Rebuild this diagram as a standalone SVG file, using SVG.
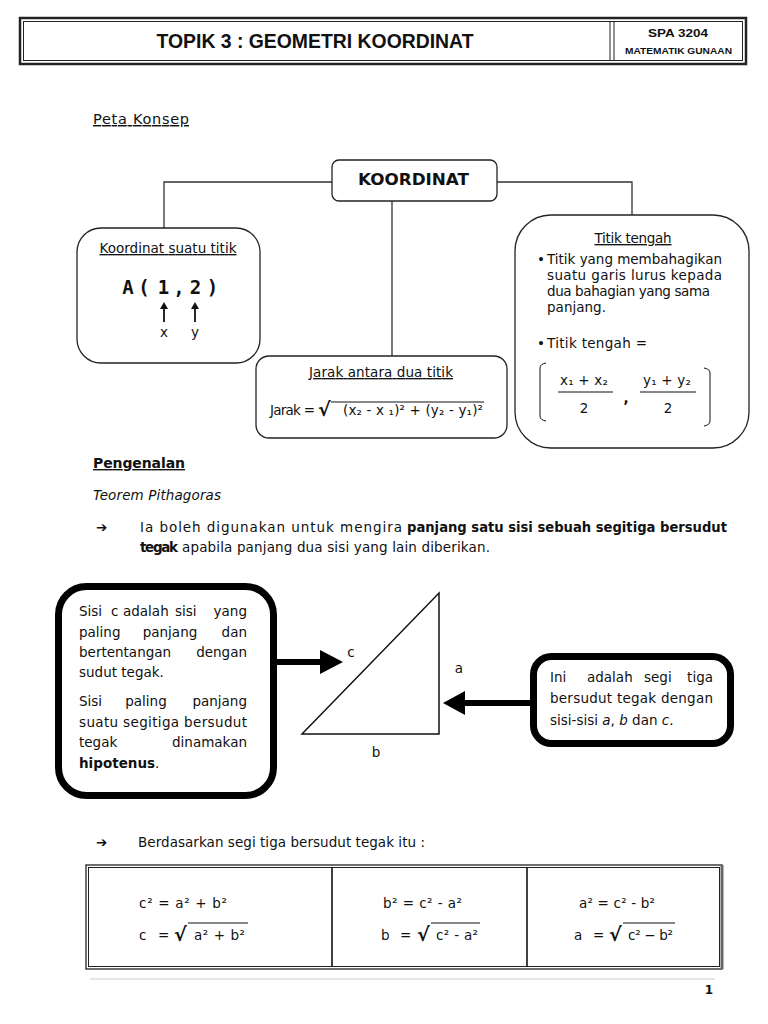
<svg xmlns="http://www.w3.org/2000/svg" width="768" height="1024" viewBox="0 0 768 1024">
<style>
.t{font-family:"DejaVu Sans","Verdana",sans-serif;font-size:13.5px;fill:#111}
.b{font-weight:bold}
.i{font-style:italic}
.u{text-decoration:underline}
.box{fill:#fff;stroke:#222;stroke-width:1.3}
.thick{fill:#fff;stroke:#000;stroke-width:7}
.con{fill:none;stroke:#333;stroke-width:1.3}
.hdr{font-family:"Liberation Sans","Arial",sans-serif;font-weight:bold;fill:#111}
.m{font-family:"DejaVu Sans","Verdana",sans-serif;font-size:13.5px;fill:#111}
.rad{font-family:"DejaVu Sans","Verdana",sans-serif;font-weight:bold;font-size:19px;fill:#111}
</style>
<rect width="768" height="1024" fill="#fff"/>

<g id="header">
<rect x="20" y="18" width="726" height="46" fill="none" stroke="#222" stroke-width="2.5"/>
<rect x="23.5" y="21.5" width="719" height="39" fill="none" stroke="#222" stroke-width="1"/>
<line x1="610" y1="21.5" x2="610" y2="60.5" stroke="#222" stroke-width="1"/>
<line x1="614" y1="21.5" x2="614" y2="60.5" stroke="#222" stroke-width="1"/>
<text class="hdr" x="315" y="48" style="font-size:21px" text-anchor="middle" textLength="317" lengthAdjust="spacingAndGlyphs">TOPIK 3 : GEOMETRI KOORDINAT</text>
<text class="hdr" x="678" y="37" style="font-size:11.5px" text-anchor="middle" textLength="60" lengthAdjust="spacingAndGlyphs">SPA 3204</text>
<text class="hdr" x="678.5" y="54" style="font-size:9.5px" text-anchor="middle" textLength="107" lengthAdjust="spacingAndGlyphs">MATEMATIK GUNAAN</text>
</g>

<text class="t u" x="93" y="124" style="font-size:14.5px" textLength="96">Peta Konsep</text>

<g id="connectors">
<polyline class="con" points="332,182 164,182 164,228"/>
<polyline class="con" points="497,182 632,182 632,215"/>
<line class="con" x1="392" y1="201" x2="392" y2="356"/>
<line x1="277" y1="662" x2="322" y2="662" stroke="#000" stroke-width="6"/>
<polygon points="320,650 343,662 320,674" fill="#000"/>
<line x1="530" y1="703" x2="463" y2="703" stroke="#000" stroke-width="6"/>
<polygon points="465,691 443,703 465,715" fill="#000"/>
</g>

<g id="koordinat">
<rect class="box" x="332" y="160" width="165" height="41" rx="7"/>
<text class="t b" x="413.5" y="185" style="font-size:16.5px" text-anchor="middle" textLength="111" lengthAdjust="spacingAndGlyphs">KOORDINAT</text>
</g>

<g id="koordinat-titik">
<rect class="box" x="77" y="228" width="183" height="135" rx="24"/>
<text class="t u" x="168" y="253" text-anchor="middle" textLength="137">Koordinat suatu titik</text>
<g font-family="DejaVu Sans Mono, Liberation Mono, monospace" font-weight="bold" font-size="19" fill="#111" text-anchor="middle">
<text x="128" y="294">A</text><text x="144" y="294">(</text><text x="163.5" y="294">1</text><text x="179" y="294">,</text><text x="195.5" y="294">2</text><text x="212.5" y="294">)</text>
</g>
<line x1="164" y1="322" x2="164" y2="308" stroke="#111" stroke-width="1.8"/>
<polygon points="160,309 164,302 168,309" fill="#111"/>
<line x1="195" y1="322" x2="195" y2="308" stroke="#111" stroke-width="1.8"/>
<polygon points="191,309 195,302 199,309" fill="#111"/>
<text class="t" x="164" y="337" text-anchor="middle">x</text>
<text class="t" x="195" y="337" text-anchor="middle">y</text>
</g>

<g id="jarak">
<rect class="box" x="256" y="356" width="251" height="82" rx="13"/>
<text class="t u" x="381" y="377" text-anchor="middle" textLength="144">Jarak antara dua titik</text>
<text class="t" x="270" y="415" textLength="45">Jarak =</text>
<text class="rad" x="318" y="416">√</text>
<line x1="331" y1="402" x2="484" y2="402" stroke="#111" stroke-width="1"/>
<text class="t" x="343" y="415" textLength="140">(x₂ - x ₁)² + (y₂ - y₁)²</text>
</g>

<g id="titik-tengah">
<rect class="box" x="515" y="215" width="234" height="233" rx="36"/>
<text class="t u" x="633" y="243" text-anchor="middle" textLength="77">Titik tengah</text>
<text class="m" x="537" y="264">•</text>
<text class="m" x="547" y="264" textLength="175">Titik yang membahagikan</text>
<text class="m" x="547" y="280" textLength="175">suatu garis lurus kepada</text>
<text class="m" x="547" y="296" textLength="163">dua bahagian yang sama</text>
<text class="m" x="547" y="312" textLength="59">panjang.</text>
<text class="m" x="537" y="348">•</text>
<text class="m" x="547" y="348" textLength="100">Titik tengah =</text>
<path d="M546,363 Q540,364 540,368 L540,416 Q540,420 546,421" fill="none" stroke="#111" stroke-width="1"/>
<path d="M704,368 Q710,369 710,373 L710,421 Q710,425 704,426" fill="none" stroke="#111" stroke-width="1"/>
<text class="t" x="584" y="385" text-anchor="middle" textLength="48">x₁ + x₂</text>
<line x1="558" y1="392" x2="613" y2="392" stroke="#111" stroke-width="1"/>
<text class="t" x="584" y="413" text-anchor="middle">2</text>
<text class="t b" x="626" y="403" text-anchor="middle">,</text>
<text class="t" x="667" y="385" text-anchor="middle" textLength="48">y₁ + y₂</text>
<line x1="640" y1="392" x2="696" y2="392" stroke="#111" stroke-width="1"/>
<text class="t" x="668" y="413" text-anchor="middle">2</text>
</g>

<g id="pengenalan">
<text class="t b u" x="93" y="468" style="font-size:14px" textLength="92">Pengenalan</text>
<text class="t i" x="93" y="500" textLength="128">Teorem Pithagoras</text>
<text class="t b" x="96" y="532">➔</text>
<text class="t" x="140" y="532" textLength="262">Ia boleh digunakan untuk mengira</text>
<text class="t b" x="407" y="532" textLength="320" lengthAdjust="spacingAndGlyphs">panjang satu sisi sebuah segitiga bersudut</text>
<text class="t b" x="140" y="552" textLength="38">tegak</text>
<text class="t" x="182" y="552" textLength="308">apabila panjang dua sisi yang lain diberikan.</text>
</g>

<g id="hipotenus-box">
<rect class="thick" x="58.5" y="586.5" width="215" height="209" rx="28"/>
<g class="m">
<text x="79" y="616">Sisi</text><text x="111" y="616">c</text><text x="123" y="616">adalah</text><text x="175" y="616">sisi</text><text x="247" y="616" text-anchor="end">yang</text>
<text x="79" y="637">paling</text><text x="170" y="637" text-anchor="middle">panjang</text><text x="247" y="637" text-anchor="end">dan</text>
<text x="79" y="657">bertentangan</text><text x="247" y="657" text-anchor="end">dengan</text>
<text x="79" y="677">sudut tegak.</text>
<text x="79" y="706">Sisi</text><text x="146" y="706" text-anchor="middle">paling</text><text x="247" y="706" text-anchor="end">panjang</text>
<text x="79" y="727" textLength="168">suatu segitiga bersudut</text>
<text x="79" y="747">tegak</text><text x="247" y="747" text-anchor="end">dinamakan</text>
<text x="79" y="768"><tspan font-weight="bold">hipotenus</tspan>.</text>
</g>
</g>

<g id="segitiga">
<polygon points="302,734 439,593 439,734" fill="#fff" stroke="#111" stroke-width="1.5"/>
<text class="m" x="351" y="657" text-anchor="middle">c</text>
<text class="m" x="459" y="673" text-anchor="middle">a</text>
<text class="m" x="376" y="757" text-anchor="middle">b</text>
</g>

<g id="segitiga-box">
<rect class="thick" x="533.5" y="656.5" width="197" height="87" rx="18"/>
<g class="m">
<text x="550" y="682">Ini</text><text x="587" y="682">adalah</text><text x="644" y="682">segi</text><text x="713" y="682" text-anchor="end">tiga</text>
<text x="550" y="703" textLength="163">bersudut tegak dengan</text>
<text x="550" y="725">sisi-sisi <tspan font-style="italic">a</tspan>, <tspan font-style="italic">b</tspan> dan <tspan font-style="italic">c</tspan>.</text>
</g>
</g>

<g id="berdasarkan">
<text class="t b" x="96" y="847">➔</text>
<text class="t" x="138" y="847" textLength="287">Berdasarkan segi tiga bersudut tegak itu :</text>
</g>

<g id="jadual">
<rect x="86" y="865" width="636" height="104" fill="none" stroke="#222" stroke-width="1.3"/>
<rect x="88.5" y="867.5" width="631" height="99" fill="none" stroke="#222" stroke-width="1"/>
<line x1="722" y1="865" x2="722" y2="969" stroke="#666" stroke-width="3"/>
<line x1="332" y1="867" x2="332" y2="967" stroke="#111" stroke-width="1.6"/>
<line x1="527" y1="867" x2="527" y2="967" stroke="#111" stroke-width="1.6"/>
<g class="m">
<text x="139" y="908" textLength="88">c² = a² + b²</text>
<text x="139" y="940">c</text><text x="158" y="940">=</text>
<text class="rad" x="174" y="941">√</text>
<line x1="188" y1="923" x2="248" y2="923" stroke="#111" stroke-width="1.2"/>
<text x="194" y="940" textLength="51">a² + b²</text>

<text x="383" y="908" textLength="79">b² = c² - a²</text>
<text x="381" y="940">b</text><text x="400" y="940">=</text>
<text class="rad" x="417" y="941">√</text>
<line x1="431" y1="923" x2="480" y2="923" stroke="#111" stroke-width="1.2"/>
<text x="436" y="940" textLength="42">c² - a²</text>

<text x="579" y="908" textLength="76">a² = c² - b²</text>
<text x="574" y="940">a</text><text x="593" y="940">=</text>
<text class="rad" x="609" y="941">√</text>
<line x1="623" y1="923" x2="675" y2="923" stroke="#111" stroke-width="1.2"/>
<text x="628" y="940" textLength="45">c² − b²</text>
</g>
</g>

<g id="footer">
<line x1="90" y1="979" x2="715" y2="979" stroke="#ccc" stroke-width="1"/>
<text class="t b" x="713" y="994" style="font-size:12px" text-anchor="end">1</text>
</g>
</svg>
